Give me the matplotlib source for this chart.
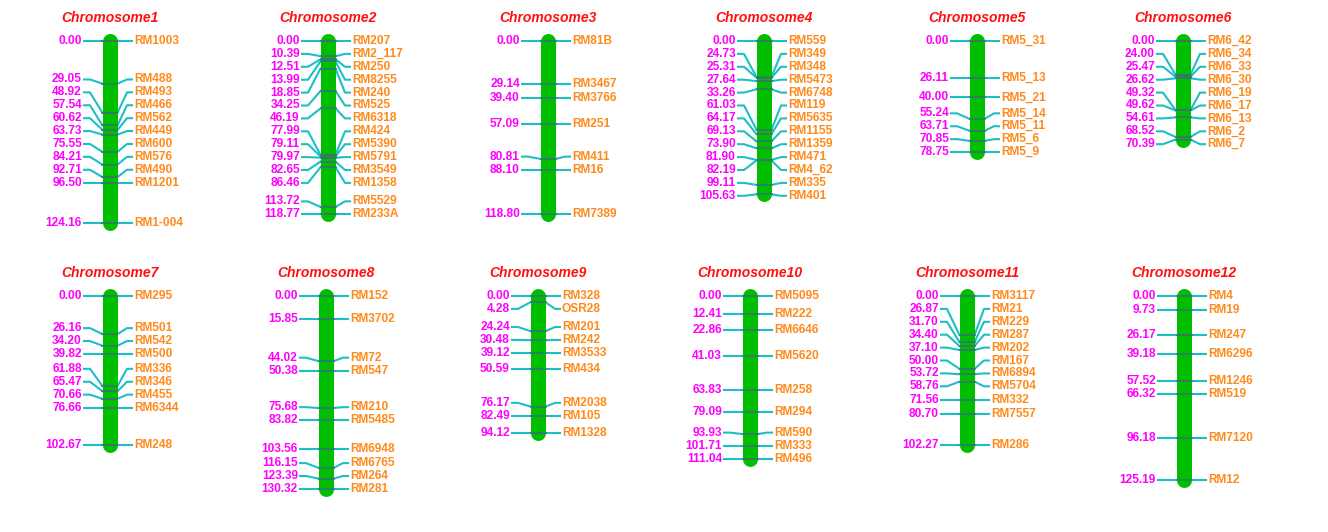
import matplotlib
matplotlib.use('Agg')
import matplotlib.pyplot as plt

plt.rcParams['font.family'] = ['Liberation Sans', 'DejaVu Sans']

# Linkage map data (cM positions and marker names)
chr_names = [f'Chromosome{i}' for i in range(1, 13)]

chr1_pos = [0.00, 29.05, 48.92, 57.54, 60.62, 63.73, 75.55, 84.21, 92.71, 96.50, 124.16]
chr1_mk = ['RM1003', 'RM488', 'RM493', 'RM466', 'RM562', 'RM449', 'RM600', 'RM576', 'RM490', 'RM1201', 'RM1-004']

chr2_pos = [0.00, 10.39, 12.51, 13.99, 18.85, 34.25, 46.19, 77.99, 79.11, 79.97, 82.65, 86.46, 113.72, 118.77]
chr2_mk = ['RM207', 'RM2_117', 'RM250', 'RM8255', 'RM240', 'RM525', 'RM6318', 'RM424', 'RM5390', 'RM5791',
           'RM3549', 'RM1358', 'RM5529', 'RM233A']

chr3_pos = [0.00, 29.14, 39.40, 57.09, 80.81, 88.10, 118.80]
chr3_mk = ['RM81B', 'RM3467', 'RM3766', 'RM251', 'RM411', 'RM16', 'RM7389']

chr4_pos = [0.00, 24.73, 25.31, 27.64, 33.26, 61.03, 64.17, 69.13, 73.90, 81.90, 82.19, 99.11, 105.63]
chr4_mk = ['RM559', 'RM349', 'RM348', 'RM5473', 'RM6748', 'RM119', 'RM5635', 'RM1155', 'RM1359', 'RM471',
           'RM4_62', 'RM335', 'RM401']

chr5_pos = [0.00, 26.11, 40.00, 55.24, 63.71, 70.85, 78.75]
chr5_mk = ['RM5_31', 'RM5_13', 'RM5_21', 'RM5_14', 'RM5_11', 'RM5_6', 'RM5_9']

chr6_pos = [0.00, 24.00, 25.47, 26.62, 49.32, 49.62, 54.61, 68.52, 70.39]
chr6_mk = ['RM6_42', 'RM6_34', 'RM6_33', 'RM6_30', 'RM6_19', 'RM6_17', 'RM6_13', 'RM6_2', 'RM6_7']

chr7_pos = [0.00, 26.16, 34.20, 39.82, 61.88, 65.47, 70.66, 76.66, 102.67]
chr7_mk = ['RM295', 'RM501', 'RM542', 'RM500', 'RM336', 'RM346', 'RM455', 'RM6344', 'RM248']

chr8_pos = [0.00, 15.85, 44.02, 50.38, 75.68, 83.82, 103.56, 116.15, 123.39, 130.32]
chr8_mk = ['RM152', 'RM3702', 'RM72', 'RM547', 'RM210', 'RM5485', 'RM6948', 'RM6765', 'RM264', 'RM281']

chr9_pos = [0.00, 4.28, 24.24, 30.48, 39.12, 50.59, 76.17, 82.49, 94.12]
chr9_mk = ['RM328', 'OSR28', 'RM201', 'RM242', 'RM3533', 'RM434', 'RM2038', 'RM105', 'RM1328']

chr10_pos = [0.00, 12.41, 22.86, 41.03, 63.83, 79.09, 93.93, 101.71, 111.04]
chr10_mk = ['RM5095', 'RM222', 'RM6646', 'RM5620', 'RM258', 'RM294', 'RM590', 'RM333', 'RM496']

chr11_pos = [0.00, 26.87, 31.70, 34.40, 37.10, 50.00, 53.72, 58.76, 71.56, 80.70, 102.27]
chr11_mk = ['RM3117', 'RM21', 'RM229', 'RM287', 'RM202', 'RM167', 'RM6894', 'RM5704', 'RM332', 'RM7557', 'RM286']

chr12_pos = [0.00, 9.73, 26.17, 39.18, 57.52, 66.32, 96.18, 125.19]
chr12_mk = ['RM4', 'RM19', 'RM247', 'RM6296', 'RM1246', 'RM519', 'RM7120', 'RM12']

all_pos = [chr1_pos, chr2_pos, chr3_pos, chr4_pos, chr5_pos, chr6_pos,
           chr7_pos, chr8_pos, chr9_pos, chr10_pos, chr11_pos, chr12_pos]
all_mk = [chr1_mk, chr2_mk, chr3_mk, chr4_mk, chr5_mk, chr6_mk,
          chr7_mk, chr8_mk, chr9_mk, chr10_mk, chr11_mk, chr12_mk]

# Layout (pixel units)
W, H = 1328, 532
X_CENTERS = [110, 328, 548, 764, 977, 1183, 110, 326, 538, 750, 967, 1184]
ROW_SPAN = [(0, 256), (256, 532)]    # pixel rows covered by each row of panels
ROW_ZERO = [41, 296]                 # pixel y of 0 cM
TITLE_Y = [18, 273]
# drawn px per cM, slightly different for each chromosome
SCALES = [1.468, 1.459, 1.459, 1.452, 1.41, 1.40, 1.455, 1.48, 1.452, 1.47, 1.457, 1.472]
GAP_PX = 12.9                        # min label spacing in px
HALF_W = 105                         # half width of each panel, px

GREEN = '#00BE00'
CYAN = '#1CC0C4'
DARK = '#3C6E7C'
MAGENTA = '#FF00FF'
ORANGE = '#FF8A1C'
RED = '#FF1010'


def spread(pos, gap):
    # push labels apart: upward pass from the bottom, then downward pass
    y = list(pos)
    for i in range(len(y) - 2, -1, -1):
        y[i] = min(y[i], y[i + 1] - gap)
    y[0] = max(y[0], pos[0])
    for i in range(1, len(y)):
        y[i] = max(y[i], y[i - 1] + gap)
    return y


fig = plt.figure(figsize=(W / 100, H / 100), dpi=100, facecolor='white')

for k in range(12):
    row = k // 6
    top, bot = ROW_SPAN[row]
    s = SCALES[k]
    xc = X_CENTERS[k]
    ax = fig.add_axes([(xc - HALF_W) / W, 1 - bot / H, 2 * HALF_W / W, (bot - top) / H])
    ax.set_xlim(-HALF_W, HALF_W)
    ax.set_ylim((bot - ROW_ZERO[row]) / s, (top - ROW_ZERO[row]) / s)
    ax.axis('off')

    pos = all_pos[k]
    mk = all_mk[k]
    lab_y = spread(pos, GAP_PX / s)

    ax.text(0, (TITLE_Y[row] - ROW_ZERO[row]) / s, chr_names[k], color=RED,
            fontsize=10, fontweight='bold', fontstyle='italic', ha='center', va='center')

    # chromosome bar
    ax.plot([0, 0], [pos[0], pos[-1]], color=GREEN, linewidth=10.8,
            solid_capstyle='round', zorder=2)

    for p, ly, name in zip(pos, lab_y, mk):
        ax.plot([-26, -20, -7.5], [ly, ly, p], color=CYAN, linewidth=1.5, zorder=1)
        ax.plot([7.5, 17, 22], [p, ly, ly], color=CYAN, linewidth=1.5, zorder=1)
        ax.plot([-7.5, 7.5], [p, p], color=DARK, linewidth=1.1, zorder=3)
        ax.text(-28, ly, f'{p:.2f}', color=MAGENTA, fontsize=8.6, fontweight='bold',
                ha='right', va='center')
        ax.text(24, ly, name, color=ORANGE, fontsize=8.6, fontweight='bold',
                ha='left', va='center')

fig.savefig('out.png', dpi=100, facecolor='white')
